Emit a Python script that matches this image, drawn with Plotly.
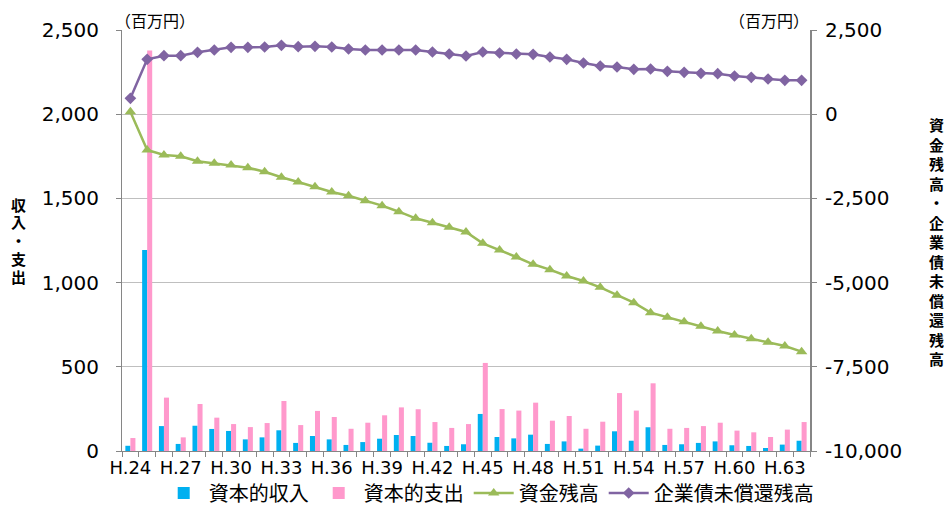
import plotly.graph_objects as go

# ---- data ----
years = [f"H.{n}" for n in range(24, 65)]
capital_income = [31, 1194, 148, 42, 150, 131, 119, 69, 81, 123,
                  48, 89, 69, 36, 53, 73, 95, 89, 49, 30,
                  40, 220, 83, 75, 97, 42, 57, 14, 32, 117,
                  61, 141, 36, 40, 48, 57, 34, 30, 18, 38, 61]
capital_expense = [77, 2378, 317, 81, 279, 198, 160, 142, 166, 297,
                   154, 238, 202, 132, 168, 212, 259, 248, 172, 137,
                   160, 523, 249, 240, 287, 180, 208, 132, 174, 344,
                   240, 402, 132, 137, 148, 168, 121, 111, 83, 127, 172]
fund_balance = [70, -1063, -1211, -1250, -1399, -1458, -1508, -1588, -1707, -1873,
                -2013, -2152, -2310, -2420, -2568, -2716, -2895, -3091, -3221, -3358,
                -3497, -3833, -4032, -4240, -4457, -4616, -4804, -4952, -5140, -5377,
                -5596, -5893, -6031, -6160, -6298, -6437, -6555, -6665, -6773, -6882, -7051]
bond_balance = [472, 1630, 1737, 1737, 1837, 1906, 1985, 1985, 1995, 2045,
                2005, 2015, 1995, 1936, 1906, 1906, 1906, 1906, 1847, 1787,
                1728, 1847, 1817, 1787, 1777, 1698, 1630, 1520, 1431, 1401,
                1332, 1342, 1272, 1243, 1213, 1203, 1134, 1094, 1045, 1005, 1005]
x_ticktext = [y if i % 3 == 0 else "" for i, y in enumerate(years)]
y1_tickvals = [0, 500, 1000, 1500, 2000, 2500]
y1_ticktext = ["0", "500", "1,000", "1,500", "2,000", "2,500"]
y2_tickvals = [-10000, -7500, -5000, -2500, 0, 2500]
y2_ticktext = ["-10,000", "-7,500", "-5,000", "-2,500", "0", "2,500"]

CJK = "Noto Sans CJK JP"
NUM = "DejaVu Sans"
AX = "#868686"

# page body adds an 8px margin, so the figure is sized 944x498
W, H = 944, 498
ML, MR, MT, MB = 114, 142, 22, 55
PW, PH = W - ML - MR, H - MT - MB

fig = go.Figure()
fig.add_trace(go.Bar(x=years, y=capital_income, name="資本的収入",
                     marker=dict(color="#00B0F0", line=dict(width=0))))
fig.add_trace(go.Bar(x=years, y=capital_expense, name="資本的支出",
                     marker=dict(color="#FF99CC", line=dict(width=0))))
fig.add_trace(go.Scatter(x=years, y=fund_balance, name="資金残高", yaxis="y2",
                         mode="lines+markers",
                         line=dict(color="#9BBB59", width=2.5),
                         marker=dict(symbol="triangle-up", size=10, color="#9BBB59")))
fig.add_trace(go.Scatter(x=years, y=bond_balance, name="企業債未償還残高", yaxis="y2",
                         mode="lines+markers",
                         line=dict(color="#8064A2", width=2.5),
                         marker=dict(symbol="diamond", size=9, color="#8064A2")))

fig.update_layout(
    width=W, height=H,
    margin=dict(l=ML, r=MR, t=MT, b=MB, autoexpand=False),
    paper_bgcolor="white", plot_bgcolor="white",
    barmode="group", bargap=0.4, bargroupgap=0,
    font=dict(family=CJK, color="#000000"),
    showlegend=True,
    legend=dict(orientation="h", x=0.533, xanchor="center",
                y=-(485 - MT - PH) / PH, yanchor="middle",
                font=dict(family=CJK, size=20), itemwidth=40,
                traceorder="normal", bgcolor="rgba(0,0,0,0)"),
    xaxis=dict(type="category", tickmode="array", tickvals=years, ticktext=x_ticktext,
               tickson="boundaries", ticks="outside", ticklen=5, tickcolor=AX,
               showline=True, linecolor=AX, linewidth=1, showgrid=False,
               tickangle=0, tickfont=dict(family=NUM, size=18, color="#000"),
               range=[-0.5, len(years) - 0.5]),
    yaxis=dict(range=[0, 2500], tickmode="array", tickvals=y1_tickvals, ticktext=y1_ticktext,
               showline=True, linecolor=AX, linewidth=1, ticks="outside", ticklen=5,
               tickcolor=AX, showgrid=True, gridcolor="#BFBFBF", gridwidth=1,
               zeroline=False, tickfont=dict(family=NUM, size=20, color="#000"),
               ticklabelstandoff=13),
    yaxis2=dict(range=[-10000, 2500], overlaying="y", side="right", tickmode="array",
                tickvals=y2_tickvals, ticktext=y2_ticktext,
                showline=True, linecolor=AX, linewidth=2, ticks="outside", ticklen=5,
                tickcolor=AX, showgrid=False, zeroline=False,
                tickfont=dict(family=NUM, size=20, color="#000"),
                ticklabelstandoff=4),
)

fig.add_annotation(text="（百万円）", xref="paper", yref="paper", x=0.0, y=1.0,
                   xanchor="left", yanchor="bottom", showarrow=False, borderpad=0,
                   font=dict(family=CJK, size=16), yshift=-3, xshift=-8)
fig.add_annotation(text="（百万円）", xref="paper", yref="paper", x=1.0, y=1.0,
                   xanchor="right", yanchor="bottom", showarrow=False, borderpad=0,
                   font=dict(family=CJK, size=16), yshift=-3)

left_title = "収入・支出"
right_title = "資金残高・企業債未償還残高"
# left title: stacked characters, tight pitch
for i, ch in enumerate(left_title):
    ypix = 196 + 18 * i
    fig.add_annotation(text="<b>" + ch + "</b>", xref="paper", yref="paper",
                       x=(10.5 - ML) / PW, y=1 - (ypix - MT) / PH,
                       xanchor="center", yanchor="middle", showarrow=False,
                       font=dict(family=CJK, size=15), borderpad=0)
fig.add_annotation(text="<b>" + "<br>".join(right_title) + "</b>", xref="paper", yref="paper",
                   x=(928 - ML) / PW, y=1 - (233.5 - MT) / PH,
                   xanchor="center", yanchor="middle", showarrow=False,
                   font=dict(family=CJK, size=15))

fig.write_html("out.html")
